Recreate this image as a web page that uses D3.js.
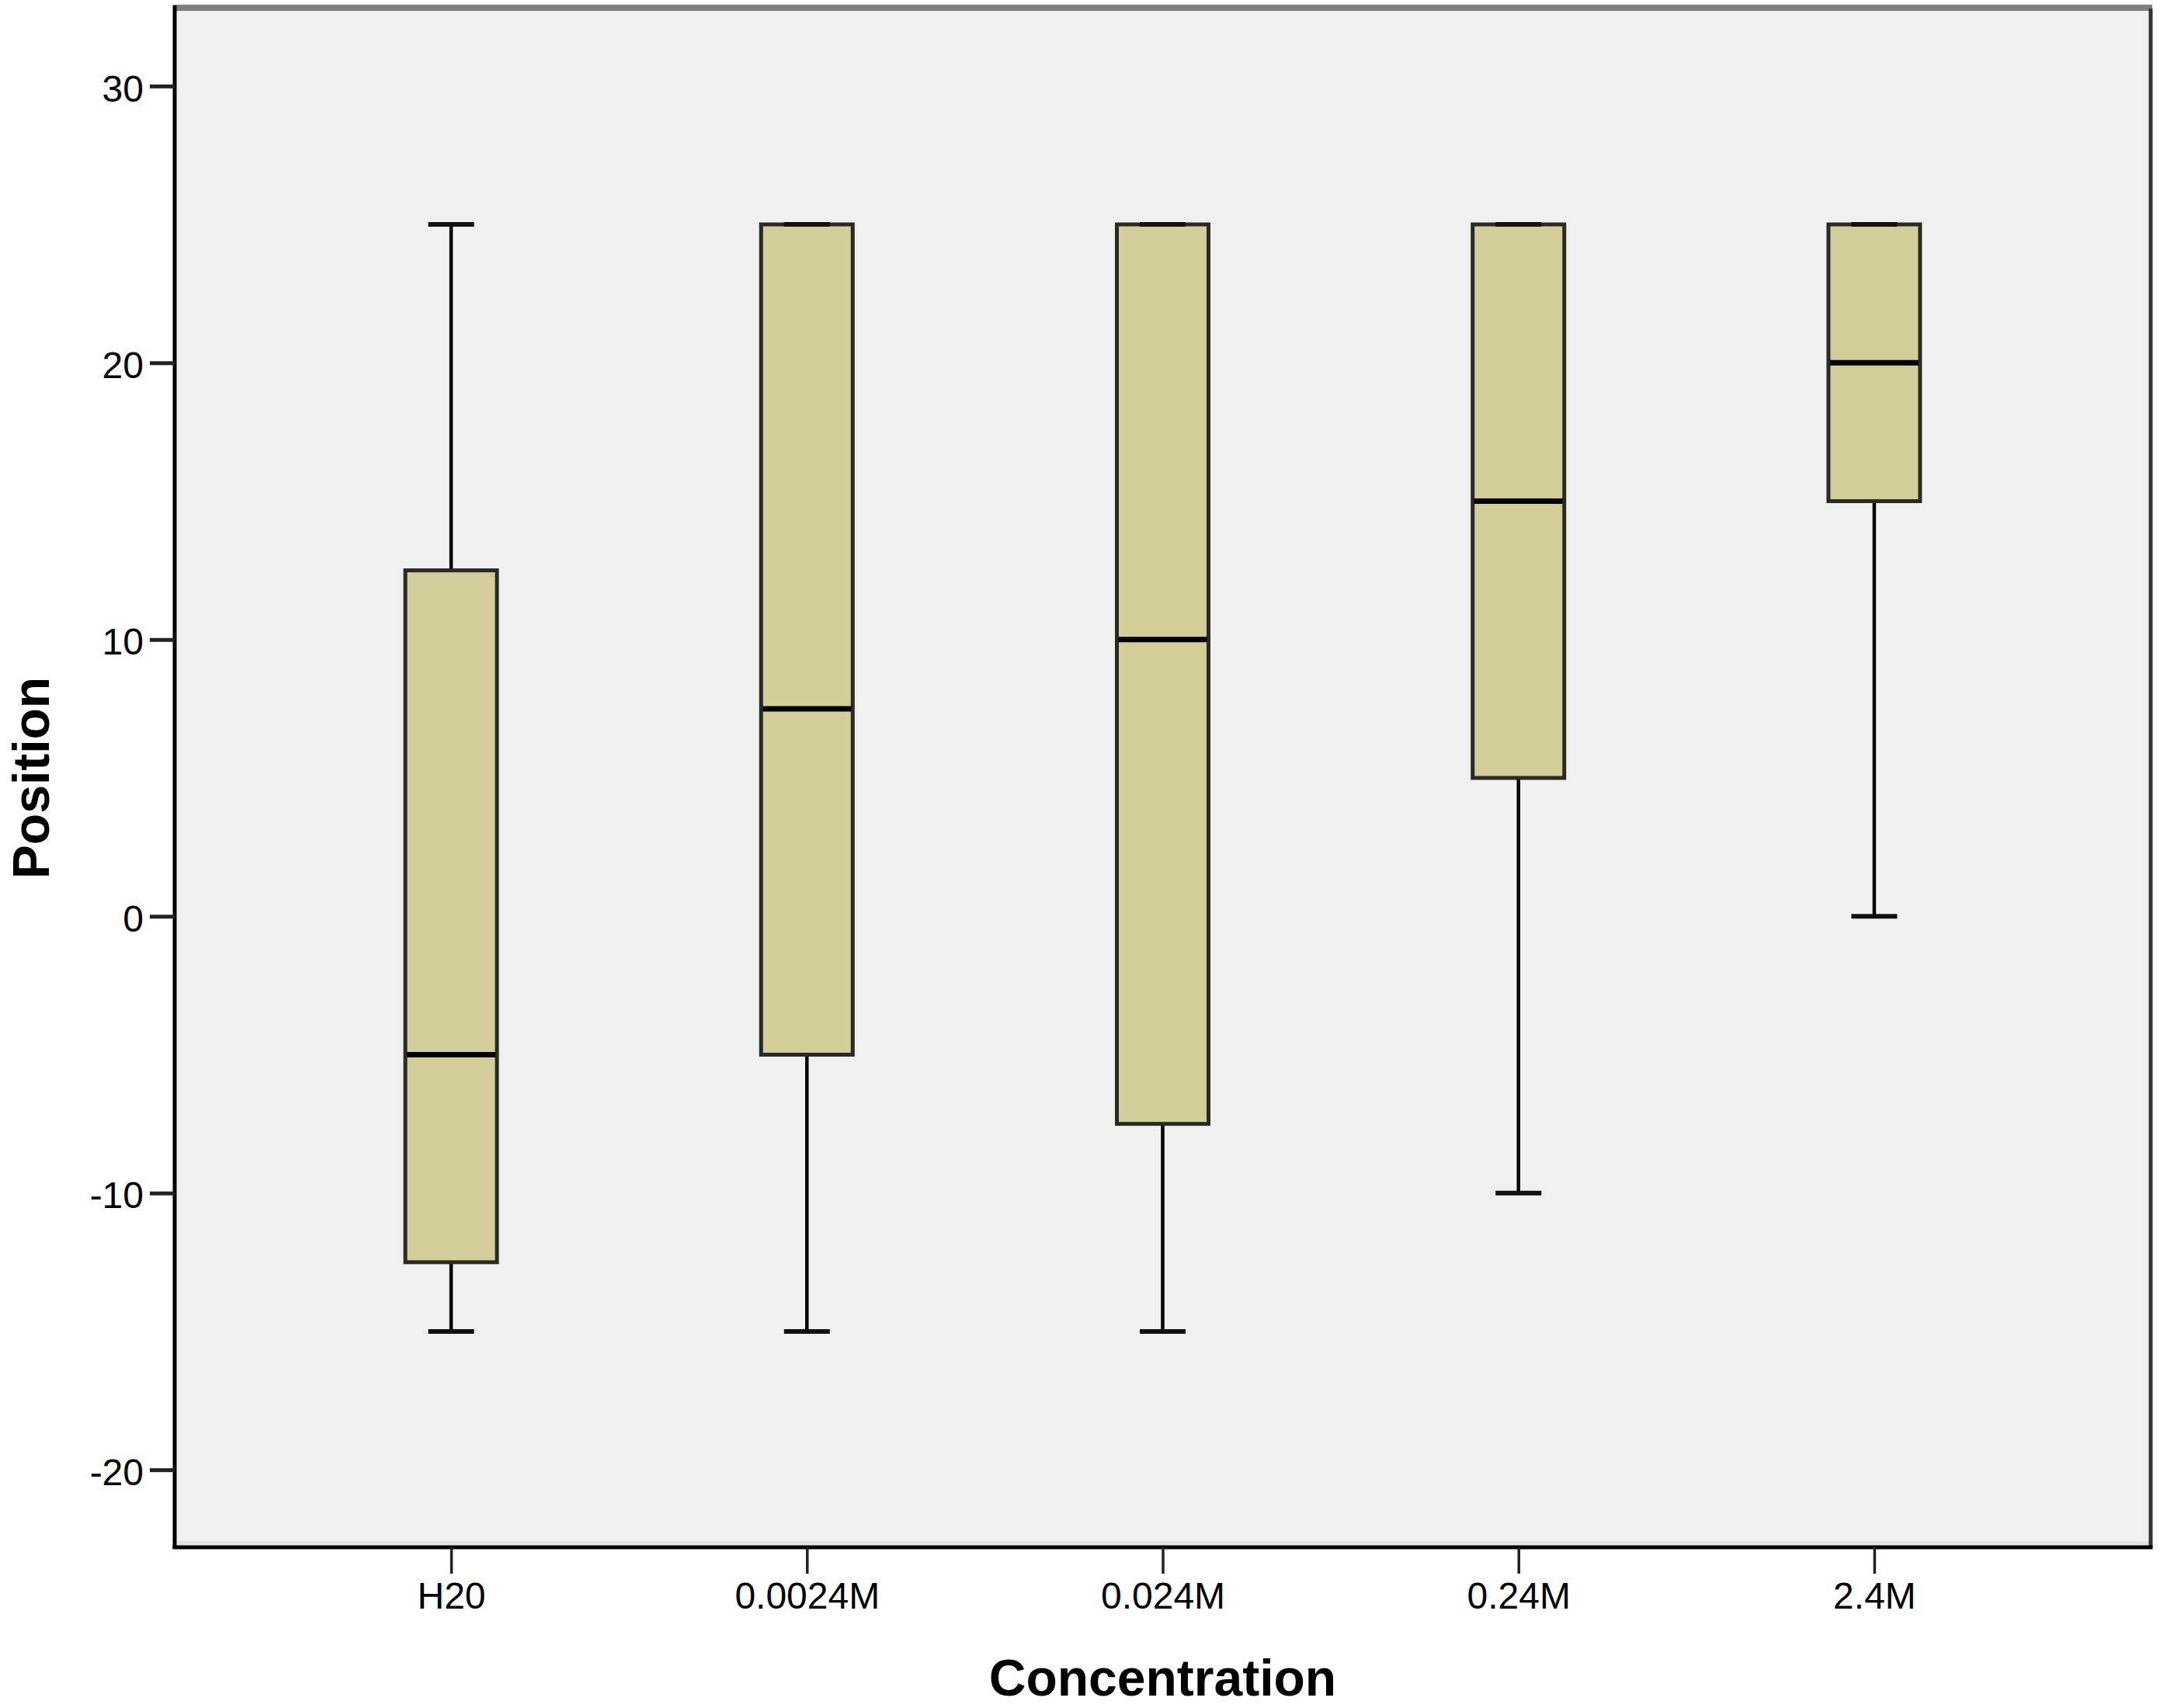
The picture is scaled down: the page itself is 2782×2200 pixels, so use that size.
<!DOCTYPE html>
<html>
<head>
<meta charset="utf-8">
<script src="https://cdn.jsdelivr.net/npm/d3@7/dist/d3.min.js"></script>
<style>
  html, body { margin: 0; padding: 0; background: #ffffff; }
  svg { display: block; }
</style>
</head>
<body>
<svg id="chart" width="2782" height="2200"></svg>
<script>
// ---- data ----
const categories = ["H20", "0.0024M", "0.024M", "0.24M", "2.4M"];
const whiskerLow = [-15, -15, -15, -10, 0];
const q1Values   = [-12.5, -5, -7.5, 5, 15];
const medians    = [-5, 7.5, 10, 15, 20];
const q3Values   = [12.5, 25, 25, 25, 25];
const whiskerHigh = [25, 25, 25, 25, 25];
const yTicks = [-20, -10, 0, 10, 20, 30];
const xTitle = "Concentration";
const yTitle = "Position";

// ---- layout ----
const svg = d3.select("#chart");
const pL = 225, pR = 2770, pT = 11, pB = 1993;
const font = "'Liberation Sans', Arial, Helvetica, sans-serif";

const y = d3.scaleLinear().domain([-22.8, 32.8]).range([pB, pT]);
const x = d3.scalePoint().domain(categories).range([pL, pR]).padding(0.777);
const boxW = 118, capW = 59;

// plot background
svg.append("rect")
  .attr("x", pL).attr("y", pT)
  .attr("width", pR - pL).attr("height", pB - pT)
  .attr("fill", "#f0f0f0");
// subtle shadow band above bottom axis
svg.append("rect")
  .attr("x", pL).attr("y", pB - 8)
  .attr("width", pR - pL).attr("height", 6)
  .attr("fill", "#e4e4e4");

// frame: top (gray), right (dark)
svg.append("line").attr("x1", pL - 2).attr("x2", pR + 2)
  .attr("y1", pT - 1).attr("y2", pT - 1)
  .attr("stroke", "#7f7f7f").attr("stroke-width", 8);
svg.append("line").attr("x1", pR).attr("x2", pR)
  .attr("y1", pT).attr("y2", pB)
  .attr("stroke", "#333333").attr("stroke-width", 5);

// boxes
const rows = categories.map((c, i) => ({
  cat: c, lo: whiskerLow[i], q1: q1Values[i], med: medians[i], q3: q3Values[i], hi: whiskerHigh[i]
}));

const g = svg.append("g");
const box = g.selectAll("g.box").data(rows).enter().append("g").attr("class", "box");

// whiskers
box.append("line")
  .attr("x1", d => x(d.cat)).attr("x2", d => x(d.cat))
  .attr("y1", d => y(d.q3)).attr("y2", d => y(d.hi))
  .attr("stroke", "#000").attr("stroke-width", 4.5);
box.append("line")
  .attr("x1", d => x(d.cat)).attr("x2", d => x(d.cat))
  .attr("y1", d => y(d.q1)).attr("y2", d => y(d.lo))
  .attr("stroke", "#000").attr("stroke-width", 4.5);

// box rect
box.append("rect")
  .attr("x", d => x(d.cat) - boxW / 2)
  .attr("y", d => y(d.q3))
  .attr("width", boxW)
  .attr("height", d => y(d.q1) - y(d.q3))
  .attr("fill", "#d3ce99")
  .attr("stroke", "#2a2a24").attr("stroke-width", 5);

// caps
box.append("line")
  .attr("x1", d => x(d.cat) - capW / 2).attr("x2", d => x(d.cat) + capW / 2)
  .attr("y1", d => y(d.hi)).attr("y2", d => y(d.hi))
  .attr("stroke", "#111").attr("stroke-width", 6);
box.append("line")
  .attr("x1", d => x(d.cat) - capW / 2).attr("x2", d => x(d.cat) + capW / 2)
  .attr("y1", d => y(d.lo)).attr("y2", d => y(d.lo))
  .attr("stroke", "#111").attr("stroke-width", 6);

// median
box.append("line")
  .attr("x1", d => x(d.cat) - boxW / 2 + 2).attr("x2", d => x(d.cat) + boxW / 2 - 2)
  .attr("y1", d => y(d.med)).attr("y2", d => y(d.med))
  .attr("stroke", "#000").attr("stroke-width", 7);

// y axis
const yAxis = svg.append("g")
  .attr("transform", `translate(${pL},0)`)
  .call(d3.axisLeft(y).tickValues(yTicks).tickFormat(d => String(d))
    .tickSize(32).tickPadding(8).tickSizeOuter(0));
yAxis.select(".domain").attr("stroke", "#000").attr("stroke-width", 5)
  .attr("d", `M0,${pT - 4}V${pB + 2}`);
yAxis.selectAll(".tick line").attr("stroke", "#222").attr("stroke-width", 5);
yAxis.selectAll(".tick text")
  .attr("font-family", font).attr("font-size", 48).attr("fill", "#000")
  .attr("dy", "0.40em");

// x axis
const xAxis = svg.append("g")
  .attr("transform", `translate(0,${pB})`)
  .call(d3.axisBottom(x).tickSize(34).tickPadding(11).tickSizeOuter(0));
xAxis.select(".domain").attr("stroke", "#000").attr("stroke-width", 5)
  .attr("d", `M${pL - 2.5},0H${pR + 2.5}`);
xAxis.selectAll(".tick line").attr("stroke", "#222").attr("stroke-width", 3.5);
xAxis.selectAll(".tick text")
  .attr("font-family", font).attr("font-size", 48).attr("fill", "#000");

// titles
svg.append("text")
  .attr("x", (pL + pR) / 2).attr("y", 2184)
  .attr("text-anchor", "middle")
  .attr("font-family", font).attr("font-weight", "bold").attr("font-size", 66)
  .attr("fill", "#000")
  .text(xTitle);
svg.append("text")
  .attr("transform", `translate(63,${(pT + pB) / 2}) rotate(-90)`)
  .attr("text-anchor", "middle")
  .attr("font-family", font).attr("font-weight", "bold").attr("font-size", 66)
  .attr("fill", "#000")
  .text(yTitle);
</script>
</body>
</html>
